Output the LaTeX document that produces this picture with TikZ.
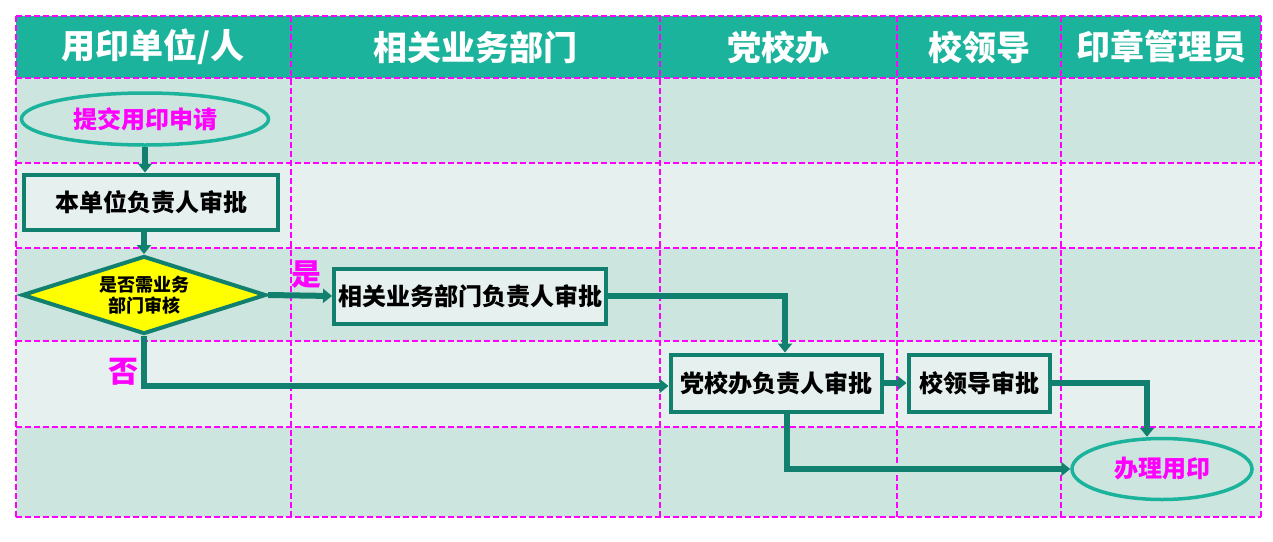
\documentclass[tikz,border=0pt]{standalone}
\usepackage{fontspec}
\usepackage{xcolor}
\usetikzlibrary{
  arrows.meta,
  shapes.geometric,
  positioning,
  calc
}
\newfontfamily\cjk{Noto Sans CJK SC}
\definecolor{flHead}{HTML}{1BB39B}
\definecolor{flLine}{HTML}{12806E}
\definecolor{flRowA}{HTML}{CCE5DE}
\definecolor{flRowB}{HTML}{E6F0EE}
\definecolor{flGrid}{HTML}{FF00FF}
\definecolor{flMag}{HTML}{FF00FF}
\definecolor{flDec}{HTML}{FFFF00}
\tikzset{
  flnode/.style={
    font=\cjk\bfseries\fontsize{24}{26}\selectfont, align=center, inner sep=0pt
  },
  flbox/.style={flnode, draw=flLine, line width=4pt, fill=flRowB, minimum height=55pt},
  flterm/.style={flnode, ellipse, draw=flHead, line width=3.5pt, fill=flRowA, text=flMag},
  fldec/.style={
    flnode, diamond, aspect=3.1, draw=flLine, line width=4pt, fill=flDec,
    font=\cjk\bfseries\fontsize{18}{21}\selectfont
  },
  flow/.style={-{Triangle[length=9pt, width=14pt]}, line width=6pt, flLine},
  gridline/.style={flGrid, line width=1.5pt, dash pattern=on 6pt off 3pt},
  lane/.style={font=\cjk\bfseries\fontsize{34}{36}\selectfont, text=white, inner sep=0pt},
  tag/.style={font=\cjk\bfseries\fontsize{30}{32}\selectfont, text=flMag, inner sep=0pt}
}

\begin{document}
\begin{tikzpicture}[x=1pt, y=-1pt]
  \useasboundingbox (0,0) rectangle (1273,541);
  % lanes and rows
  \fill[flHead] (16,16) rectangle (1261,78);
  \fill[flRowA] (16,78) rectangle (1261,163);
  \fill[flRowB] (16,163) rectangle (1261,248);
  \fill[flRowA] (16,248) rectangle (1261,341);
  \fill[flRowB] (16,341) rectangle (1261,427);
  \fill[flRowA] (16,427) rectangle (1261,517);
  \foreach \y in {16,78,163,248,341,427,517}
    \draw[gridline] (16,\y) -- (1261,\y);
  \foreach \x in {16,291,660,897,1061,1261}
    \draw[gridline] (\x,16) -- (\x,517);

  \node[lane] (hUnit) at (153,47) {用印单位/人};
  \node[lane] (hDept) at (475,47) {相关业务部门};
  \node[lane] (hOffice) at (778,47) {党校办};
  \node[lane] (hLeader) at (979,47) {校领导};
  \node[lane] (hSeal) at (1161,47) {印章管理员};

  % steps
  \node[flterm, minimum width=247pt, minimum height=52pt] (apply) at (145,119) {提交用印申请};
  \node[flbox, minimum width=254pt] (unit) at (151,202) {本单位负责人审批};
  \node[fldec, minimum width=244pt, minimum height=78pt] (need) at (144,295) {是否需业务\\部门审核};
  \node[flbox, minimum width=272pt] (dept) at (470,296) {相关业务部门负责人审批};
  \node[flbox, minimum width=211pt, minimum height=57pt] (office) at (776,383) {党校办负责人审批};
  \node[flbox, minimum width=141pt, minimum height=57pt] (leader) at (979,383) {校领导审批};
  \node[flterm, minimum width=180pt, minimum height=61pt] (seal) at (1162,469) {办理用印};

  \node[tag] (yes) at (306,275) {是};
  \node[tag] (no) at (123,372) {否};

  % connectors
  \draw[flow] (apply.south) -- (apply.south |- unit.north);
  \draw[flow] (need.north |- unit.south) -- (need.north);
  \draw[flow] (need.east) -- (dept.west);
  \draw[flow] (need.south) |- ([yshift=-3pt]office.west);
  \draw[flow] (dept.east) -| ([xshift=9pt]office.north);
  \draw[flow] (office.east) -- (leader.west);
  \draw[flow] (leader.east) -| ([xshift=-15pt]seal.north);
  \draw[flow] ([xshift=11pt]office.south) |- (seal.west);
\end{tikzpicture}
\end{document}
